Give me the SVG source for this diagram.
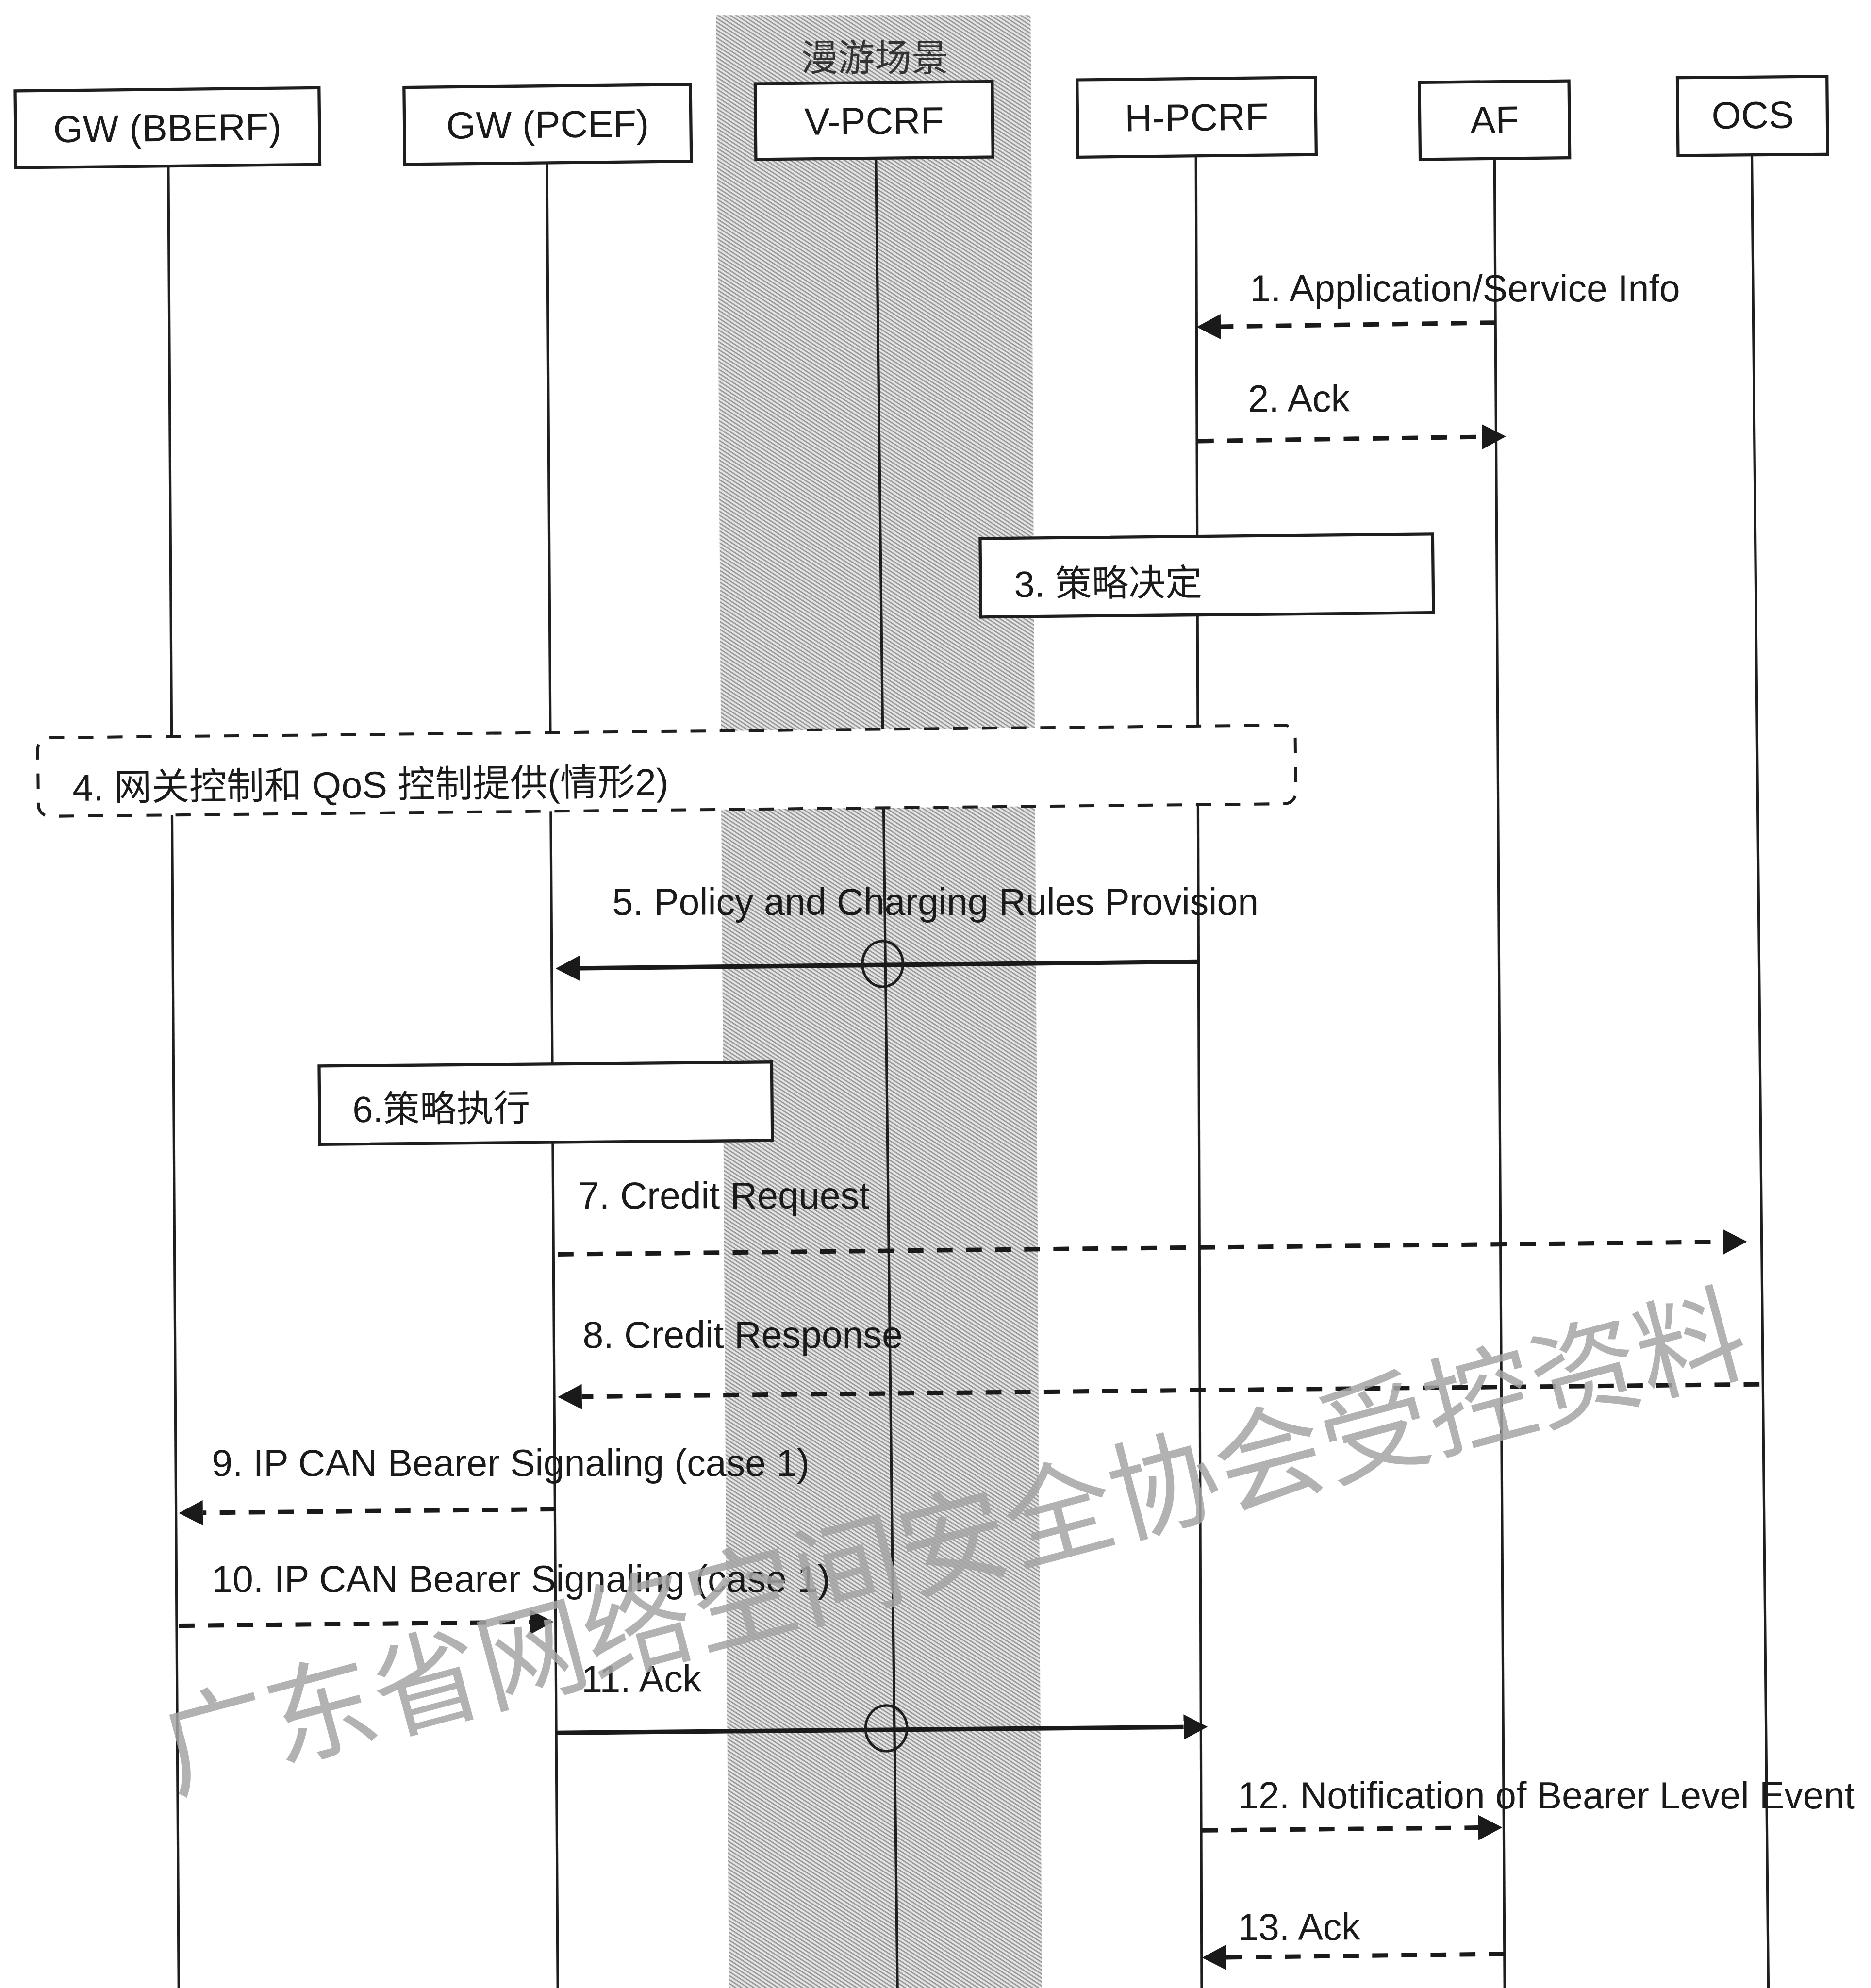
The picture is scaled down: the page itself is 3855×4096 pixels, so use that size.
<svg xmlns="http://www.w3.org/2000/svg" width="3855" height="4096" viewBox="0 0 3855 4096">
  <defs>
    <style>
      .life { stroke:#1e1e1e; stroke-width:2; fill:none }
      .box { fill:#fff; stroke:#1e1e1e; stroke-width:2.4 }
      .dbox { fill:#fff; stroke:#1e1e1e; stroke-width:2.3; stroke-dasharray:12 11 }
      .msg { stroke:#1a1a1a; stroke-width:3.5; fill:none }
      .dash { stroke-dasharray:12.5 10.5 }
      .cross { fill:none; stroke:#1e1e1e; stroke-width:2 }
      .lbl { font-family:"Liberation Sans", Arial, "Noto Sans CJK SC", sans-serif; font-size:29.5px; fill:#1a1a1a }
      .hdr { font-size:30px; text-anchor:middle }
      .cjk { font-family:"Liberation Sans", "Noto Sans CJK SC", sans-serif; font-size:29px; fill:#1a1a1a }
      .wm { font-family:"Noto Sans CJK SC", sans-serif; font-size:86px; fill:#a5a5a5; opacity:0.85 }
    </style>
    <pattern id="hatch" patternUnits="userSpaceOnUse" width="4" height="2.6" patternTransform="rotate(33)">
      <rect width="4" height="2.6" fill="#e4e4e4"/>
      <rect width="4" height="1.05" fill="#969696"/>
    </pattern>
    <marker id="ah" markerUnits="userSpaceOnUse" markerWidth="19" markerHeight="20" viewBox="0 0 19 20" refX="0" refY="10" orient="auto">
      <path d="M0,0 L19,10 L0,20 z" fill="#1a1a1a"/>
    </marker>
  </defs>

  <rect width="3855" height="4096" fill="#fff"/>

  <g transform="scale(2.6118)">
    <!-- roaming area band -->
    <g id="roaming">
      <polygon points="565,12 813,12 822,1568 575,1568" fill="url(#hatch)"/>
      <text class="cjk" x="690" y="56" text-anchor="middle" style="fill:#333">漫游场景</text>
    </g>

    <!-- participants with lifelines -->
    <g id="gw-bberf">
      <line class="life" x1="132.8" y1="131" x2="141" y2="1568"/>
      <g transform="rotate(-0.6 132 100.8)">
        <rect class="box" x="12" y="70.5" width="240" height="60.5"/>
        <text class="lbl hdr" x="132" y="111.3">GW (BBERF)</text>
      </g>
    </g>
    <g id="gw-pcef">
      <line class="life" x1="431.5" y1="128" x2="440" y2="1568"/>
      <g transform="rotate(-0.6 432 98.1)">
        <rect class="box" x="319" y="67.8" width="226" height="60.6"/>
        <text class="lbl hdr" x="432" y="108.6">GW (PCEF)</text>
      </g>
    </g>
    <g id="v-pcrf">
      <line class="life" x1="691" y1="125" x2="708" y2="1568"/>
      <g transform="rotate(-0.55 689.5 95)">
        <rect class="box" x="596" y="65.2" width="187" height="59.6"/>
        <text class="lbl hdr" x="689.5" y="105.8">V-PCRF</text>
      </g>
    </g>
    <g id="h-pcrf">
      <line class="life" x1="943.5" y1="123" x2="948" y2="1568"/>
      <g transform="rotate(-0.6 944 92.5)">
        <rect class="box" x="850" y="62" width="188" height="61"/>
        <text class="lbl hdr" x="944" y="103">H-PCRF</text>
      </g>
    </g>
    <g id="af">
      <line class="life" x1="1179" y1="125" x2="1187" y2="1568"/>
      <g transform="rotate(-0.6 1179 94.7)">
        <rect class="box" x="1120" y="64.4" width="118" height="60.7"/>
        <text class="lbl hdr" x="1179" y="104.9">AF</text>
      </g>
    </g>
    <g id="ocs">
      <line class="life" x1="1382" y1="122" x2="1395" y2="1568"/>
      <g transform="rotate(-0.5 1382.7 91.5)">
        <rect class="box" x="1323.5" y="60.8" width="118" height="61.4"/>
        <text class="lbl hdr" x="1382.7" y="101.2">OCS</text>
      </g>
    </g>

    <!-- action boxes -->
    <g id="step3" transform="rotate(-0.56 852 455)">
      <rect class="box" x="773.5" y="424" width="357" height="62"/>
      <text class="cjk" x="800" y="470.5">3. 策略决定</text>
    </g>
    <g id="step4" transform="rotate(-0.58 526 608)">
      <rect class="dbox" x="30" y="577" width="992" height="62" rx="9" ry="9"/>
      <text class="cjk" x="57" y="627" style="font-size:29.6px">4. 网关控制和 QoS 控制提供(情形2)</text>
    </g>
    <g id="step6" transform="rotate(-0.5 430.5 870)">
      <rect class="box" x="252" y="839.4" width="357" height="61.8"/>
      <text class="cjk" x="278" y="884">6.策略执行</text>
    </g>

    <!-- messages -->
    <g id="connectors">
      <g id="m1">
        <line class="msg dash" x1="1180" y1="254.5" x2="963" y2="257.7" marker-end="url(#ah)"/>
        <text class="lbl" x="986" y="237.8">1. Application/Service Info</text>
      </g>
      <g id="m2">
        <line class="msg dash" x1="945" y1="348" x2="1169" y2="344.6" marker-end="url(#ah)"/>
        <text class="lbl" x="984.5" y="324.7">2. Ack</text>
      </g>
      <g id="m5">
        <line class="msg" x1="945.3" y1="758.6" x2="457.3" y2="763.8" marker-end="url(#ah)"/>
        <ellipse class="cross" cx="696.3" cy="760.4" rx="16" ry="18"/>
        <text class="lbl" x="483" y="721.7">5. Policy and Charging Rules Provision</text>
      </g>
      <g id="m7">
        <line class="msg dash" x1="440" y1="989.5" x2="1359.2" y2="979.7" marker-end="url(#ah)"/>
        <text class="lbl" x="456.4" y="953.4">7. Credit Request</text>
      </g>
      <g id="m8">
        <line class="msg dash" x1="1388" y1="1092" x2="459" y2="1101.8" marker-end="url(#ah)"/>
        <text class="lbl" x="459.6" y="1063.4">8. Credit Response</text>
      </g>
      <g id="m9">
        <line class="msg dash" x1="438.8" y1="1190.5" x2="160" y2="1193.4" marker-end="url(#ah)"/>
        <text class="lbl" x="167" y="1164.4">9. IP CAN Bearer Signaling (case 1)</text>
      </g>
      <g id="m10">
        <line class="msg dash" x1="141" y1="1282.5" x2="417.7" y2="1279.6" marker-end="url(#ah)"/>
        <text class="lbl" x="167" y="1255.7">10. IP CAN Bearer Signaling (case 1)</text>
      </g>
      <g id="m11">
        <line class="msg" x1="438.3" y1="1367" x2="933.7" y2="1362.4" marker-end="url(#ah)"/>
        <ellipse class="cross" cx="699.2" cy="1363.4" rx="16.4" ry="18"/>
        <text class="lbl" x="458.8" y="1334.6">11. Ack</text>
      </g>
      <g id="m12">
        <line class="msg dash" x1="948.3" y1="1443.9" x2="1166.2" y2="1441.8" marker-end="url(#ah)"/>
        <text class="lbl" x="976.4" y="1426.7">12. Notification of Bearer Level Event</text>
      </g>
      <g id="m13">
        <line class="msg dash" x1="1187" y1="1541.4" x2="967.3" y2="1544.1" marker-end="url(#ah)"/>
        <text class="lbl" x="976.4" y="1530.5">13. Ack</text>
      </g>
    </g>

    <!-- diagonal watermark -->
    <text class="wm" x="137" y="1413" transform="rotate(-15 137 1413)">广东省网络空间安全协会受控资料</text>
  </g>
</svg>
